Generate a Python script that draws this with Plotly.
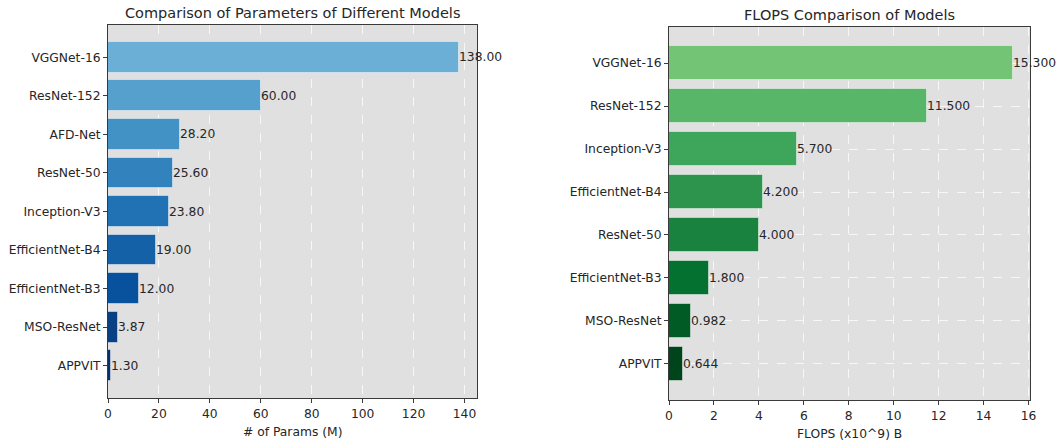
import numpy as np
import plotly.graph_objects as go

# Model parameter counts (millions), listed top to bottom
param_models = ["VGGNet-16", "ResNet-152", "AFD-Net", "ResNet-50", "Inception-V3",
                "EfficientNet-B4", "EfficientNet-B3", "MSO-ResNet", "APPVIT"]
param_values = [138.00, 60.00, 28.20, 25.60, 23.80, 19.00, 12.00, 3.87, 1.30]

# Model FLOPs (x10^9), listed top to bottom
flops_models = ["VGGNet-16", "ResNet-152", "Inception-V3", "EfficientNet-B4",
                "ResNet-50", "EfficientNet-B3", "MSO-ResNet", "APPVIT"]
flops_values = [15.300, 11.500, 5.700, 4.200, 4.000, 1.800, 0.982, 0.644]

param_ticks = [0, 20, 40, 60, 80, 100, 120, 140]
flops_ticks = [0, 2, 4, 6, 8, 10, 12, 14, 16]

# ColorBrewer anchors for sequential palettes
BLUES = ["#f7fbff", "#deebf7", "#c6dbef", "#9ecae1", "#6baed6",
         "#4292c6", "#2171b5", "#08519c", "#08306b"]
GREENS = ["#f7fcf5", "#e5f5e0", "#c7e9c0", "#a1d99b", "#74c476",
          "#41ab5d", "#238b45", "#006d2c", "#00441b"]


def sample_cmap(anchors, positions):
    rgb = np.array([[int(h[i:i + 2], 16) for i in (1, 3, 5)] for h in anchors], float)
    stops = np.linspace(0, 1, len(anchors))
    out = []
    for p in positions:
        c = [np.interp(p, stops, rgb[:, k]) for k in range(3)]
        out.append("rgb(%d,%d,%d)" % tuple(int(round(v)) for v in c))
    return out


blue_cols = sample_cmap(BLUES, np.linspace(0.5, 1.0, len(param_values)))
green_cols = sample_cmap(GREENS, np.linspace(0.5, 1.0, len(flops_values)))

FONT = "DejaVu Sans"
TXT = "#262626"
AX_BG = "#e0e0e0"
SPINE = "#3a3a3a"
GRID = "rgba(255,255,255,0.75)"

fig = go.Figure()

fig.add_trace(go.Bar(
    x=param_values, y=param_models, orientation="h",
    marker=dict(color=blue_cols, line=dict(color="rgba(255,255,255,0.45)", width=1)),
    width=0.8, xaxis="x", yaxis="y", showlegend=False, hoverinfo="x+y",
))
fig.add_trace(go.Bar(
    x=flops_values, y=flops_models, orientation="h",
    marker=dict(color=green_cols, line=dict(color="rgba(255,255,255,0.45)", width=1)),
    width=0.8, xaxis="x2", yaxis="y2", showlegend=False, hoverinfo="x+y",
))

annotations = []
for m, v in zip(param_models, param_values):
    annotations.append(dict(x=v, y=m, xref="x", yref="y", text="%.2f" % v,
                            showarrow=False, xanchor="left", yanchor="middle", xshift=-2,
                            font=dict(family=FONT, size=12.3, color=TXT)))
for m, v in zip(flops_models, flops_values):
    annotations.append(dict(x=v, y=m, xref="x2", yref="y2", text="%.3f" % v,
                            showarrow=False, xanchor="left", yanchor="middle", xshift=-2,
                            font=dict(family=FONT, size=12.3, color=TXT)))

# Titles above each panel
annotations.append(dict(x=0.2754, y=1 - 13 / 444, xref="paper", yref="paper",
                        text="Comparison of Parameters of Different Models", showarrow=False,
                        xanchor="center", yanchor="middle",
                        font=dict(family=FONT, size=14.5, color=TXT)))
annotations.append(dict(x=0.7999, y=1 - 15 / 444, xref="paper", yref="paper",
                        text="FLOPS Comparison of Models", showarrow=False,
                        xanchor="center", yanchor="middle",
                        font=dict(family=FONT, size=14.5, color=TXT)))
# Axis titles
annotations.append(dict(x=0.2754, y=1 - 432 / 444, xref="paper", yref="paper",
                        text="# of Params (M)", showarrow=False,
                        xanchor="center", yanchor="middle",
                        font=dict(family=FONT, size=12.3, color=TXT)))
annotations.append(dict(x=0.7999, y=1 - 434 / 444, xref="paper", yref="paper",
                        text="FLOPS (x10^9) B", showarrow=False,
                        xanchor="center", yanchor="middle",
                        font=dict(family=FONT, size=12.3, color=TXT)))

axis_common = dict(showline=True, mirror=True, linecolor=SPINE, linewidth=1,
                   ticks="outside", ticklen=4, tickwidth=1, tickcolor=SPINE,
                   tickfont=dict(family=FONT, size=12.3, color=TXT),
                   zeroline=False, automargin=False, layer="above traces")

fig.update_layout(
    width=1062, height=444,
    margin=dict(l=0, r=0, t=0, b=0),
    paper_bgcolor="white", plot_bgcolor=AX_BG,
    bargap=0,
    xaxis=dict(domain=[108 / 1062, 477 / 1062], range=[0, 144.9],
               tickmode="array", tickvals=param_ticks,
               showgrid=True, gridcolor=GRID, griddash="dash", gridwidth=1,
               anchor="y", **axis_common),
    yaxis=dict(domain=[1 - 398 / 444, 1 - 25 / 444], range=[8.84, -0.84],
               type="category", categoryorder="array", categoryarray=param_models,
               showgrid=False, anchor="x", **axis_common),
    xaxis2=dict(domain=[669 / 1062, 1030 / 1062], range=[0, 16.065],
                tickmode="array", tickvals=flops_ticks,
                showgrid=True, gridcolor=GRID, griddash="dash", gridwidth=1,
                anchor="y2", **axis_common),
    yaxis2=dict(domain=[1 - 400 / 444, 1 - 27 / 444], range=[7.84, -0.84],
                type="category", categoryorder="array", categoryarray=flops_models,
                showgrid=True, gridcolor=GRID, griddash="dash", gridwidth=1,
                anchor="x2", **axis_common),
    annotations=annotations,
)

fig.write_html("out.html")
